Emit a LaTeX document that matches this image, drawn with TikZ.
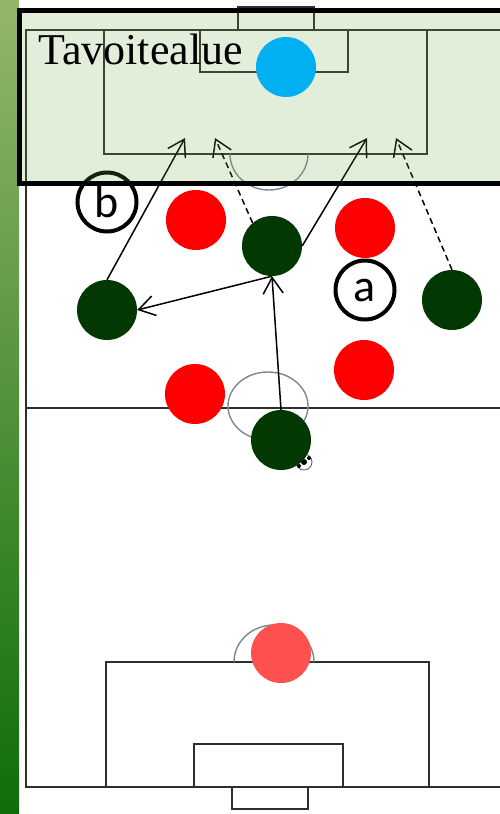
\documentclass[tikz,border=0pt]{standalone}
\usepackage{fontspec}
\setmainfont{Liberation Serif}
\newfontfamily\labelfont{Carlito}
\usetikzlibrary{arrows.meta}
\definecolor{pgreen}{HTML}{023802}
\definecolor{pred}{HTML}{FF0000}
\definecolor{ppink}{HTML}{FF5050}
\definecolor{pblue}{HTML}{00B0F0}
\definecolor{zonegreen}{HTML}{70AD47}
\definecolor{lineclr}{HTML}{2E2E2E}
\definecolor{arcclr}{HTML}{7C8794}
\definecolor{bartop}{HTML}{94B66C}
\definecolor{barbot}{HTML}{0E6D0A}
\tikzset{
  player/.style={circle, minimum size=60pt, inner sep=0pt, draw=none},
  field/.style={draw=lineclr, line width=1.4pt},
  arcline/.style={draw=arcclr, line width=1.4pt},
  pass/.style={draw=black, line width=1.5pt, -{Straight Barb[length=16pt,width=20pt,line width=1.5pt]}},
  run/.style={pass, dash pattern=on 6pt off 4pt},
  tag/.style={circle, draw=black, line width=4pt, minimum size=59pt, inner sep=0pt, font=\labelfont\fontsize{46}{46}\selectfont}
}
\begin{document}
\begin{tikzpicture}[x=1pt,y=-1pt]
\useasboundingbox (0,0) rectangle (500,814);
\fill[white] (0,0) rectangle (500,814);
% left bar
\shade[top color=bartop, bottom color=barbot] (0,0) rectangle (19,814);
% pitch lines
\draw[field] (500,30) -- (26,30) -- (26,787) -- (500,787);
\draw[field] (26,408) -- (500,408);
\draw[field] (238,30) -- (238,7) -- (314,7) -- (314,30);
\draw[field] (104,30) -- (104,154) -- (427,154) -- (427,30);
\draw[field] (200,30) -- (200,72) -- (348,72) -- (348,30);
\draw[field] (106,787) -- (106,662) -- (429,662) -- (429,787);
\draw[field] (194,787) -- (194,744) -- (343,744) -- (343,787);
\draw[field] (232,787) -- (232,809) -- (308,809) -- (308,787);
% arcs
\draw[arcline] (230,154) arc[start angle=180, end angle=360, x radius=39pt, y radius=36pt];
\draw[arcline] (268,406) ellipse[x radius=40pt, y radius=34pt];
\draw[arcline] (234,662) arc[start angle=180, end angle=0, x radius=40pt, y radius=37pt];
% ball
\node[circle, draw=gray!70!black, fill=white, line width=0.8pt, minimum size=16pt, inner sep=0pt] (ball) at (304,462) {};
\fill[black] (ball.center) circle[radius=3pt];
\fill[black] (ball.center) ++(5,-4) circle[radius=2pt];
\fill[black] (ball.center) ++(-5,4) circle[radius=2pt];
% players
\node[player, fill=pred] (r1) at (196,220) {};
\node[player, fill=pred] (r2) at (365,228) {};
\node[player, fill=pred] (r3) at (364,370) {};
\node[player, fill=pred] (r4) at (195,394) {};
\node[player, fill=ppink] (r5) at (281,653) {};
\node[player, fill=pgreen] (p1) at (272,246) {};
\node[player, fill=pgreen] (p2) at (107,310) {};
\node[player, fill=pgreen] (p3) at (452,300) {};
\node[player, fill=pgreen] (p4) at (281,440) {};
% labels
\node[tag] (la) at (365,290) {a};
\node[tag] (lb) at (107,202) {b};
% targets
\coordinate (t1) at (185,138);
\coordinate (t2) at (367,138);
\coordinate (t3) at (215,138);
\coordinate (t4) at (396,138);
% arrows
\draw[pass] (p4.north) -- (p1.south);
\draw[pass] (p1.south) -- (p2.east);
\draw[pass] (p2.north) -- (t1);
\draw[pass] (p1.east) -- (t2);
\draw[run] (p1.130) -- (t3);
\draw[run] (p3.north) -- (t4);
% target zone tint
\fill[zonegreen, fill opacity=0.2] (19,10) rectangle (505,183);
\node[player, fill=pblue] (gk) at (286,67) {};
\node[anchor=base west, inner sep=0pt, font=\fontsize{44}{44}\selectfont] (title) at (38,64) {Tavoitealue};
\draw[black, line width=5pt] (19,10) rectangle (506,183);
\end{tikzpicture}
\end{document}
